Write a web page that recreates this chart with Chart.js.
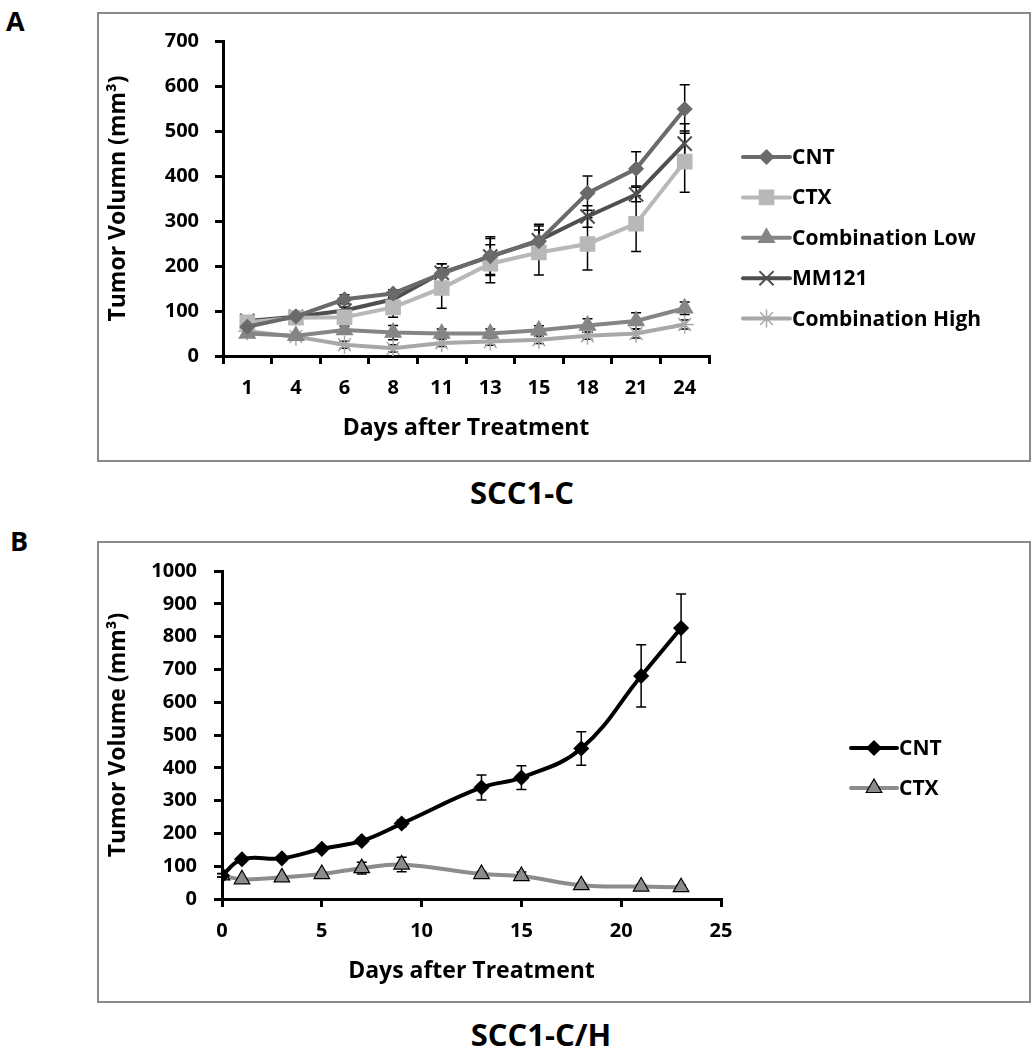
<!DOCTYPE html>
<html>
<head>
<meta charset="utf-8">
<script src="https://cdn.jsdelivr.net/npm/chart.js"></script>
<style>
  body { margin: 0; background: #fff; width: 1032px; height: 1050px; position: relative; overflow: hidden; font-family: 'Open Sans', sans-serif; }
  .box { position: absolute; box-sizing: border-box; border: 2px solid #8a8a8a; }
  .panel { position: absolute; font-weight: bold; font-size: 27px; color: #000; }
  .caption { position: absolute; font-weight: bold; font-size: 31px; color: #000; transform: translate(-50%, -50%); white-space: nowrap; }
  canvas { position: absolute; }
</style>
</head>
<body>
<div class="panel" style="left:6px; top:2px;">A</div>
<div class="panel" style="left:10px; top:522px;">B</div>
<div class="box" style="left:97px; top:12px; width:934px; height:450px;"></div>
<div class="box" style="left:97px; top:541px; width:934px; height:462px;"></div>
<canvas id="chartA" width="932" height="447" style="left:98px; top:13px;"></canvas>
<canvas id="chartB" width="932" height="459" style="left:98px; top:542px;"></canvas>
<div class="caption" style="left:522px; top:492px;">SCC1-C</div>
<div class="caption" style="left:541px; top:1034px;">SCC1-C/H</div>

<script>
// ---- panel A: SCC1-C ----
const daysA = ['1', '4', '6', '8', '11', '13', '15', '18', '21', '24'];
const cntA = [65, 88, 126, 139, 183, 222, 255, 362, 416, 549];
const ctxA = [75, 85, 86, 108, 151, 205, 230, 249, 294, 432];
const comboLowA = [50, 45, 58, 52, 50, 50, 57, 68, 78, 106];
const mm121A = [78, 87, 101, 126, 185, 221, 257, 310, 359, 472];
const comboHighA = [55, 43, 25, 17, 29, 32, 36, 45, 50, 70];

const cntErrA = [5, 6, 10, 8, 22, 43, 38, 38, 38, 54];
const ctxErrA = [5, 6, 8, 22, 45, 42, 50, 58, 62, 68];
const comboLowErrA = [5, 5, 8, 16, 10, 10, 10, 15, 18, 14];
const mm121ErrA = [5, 6, 8, 10, 20, 40, 32, 24, 16, 44];
const comboHighErrA = [5, 5, 8, 8, 8, 8, 8, 8, 10, 10];

const yMaxA = 700, yStepA = 100;

// ---- panel B: SCC1-C/H ----
const daysB = [0, 1, 3, 5, 7, 9, 13, 15, 18, 21, 23];
const cntB = [72, 121, 124, 153, 177, 230, 340, 370, 459, 680, 826];
const ctxB = [72, 60, 66, 76, 94, 105, 76, 70, 42, 38, 36];
const cntErrB = [6, 8, 8, 8, 8, 10, 38, 36, 51, 95, 104];
const ctxErrB = [5, 5, 5, 6, 18, 22, 8, 12, 6, 6, 6];

const yMaxB = 1000, yStepB = 100;
const xMaxB = 25, xStepB = 5;

const FONT = "'Open Sans', sans-serif";
const TICK_FONT = { family: FONT, size: 20, weight: 'bold' };
const TITLE_FONT = { family: FONT, size: 23, weight: 'bold' };

// error bars, drawn under the markers
const errorBarPlugin = {
  id: 'errorBars',
  beforeDatasetsDraw(chart) {
    const { ctx } = chart;
    const y = chart.scales.y;
    ctx.save();
    ctx.strokeStyle = '#000';
    ctx.lineWidth = 1.5;
    chart.data.datasets.forEach((ds, i) => {
      if (!ds.errors) return;
      const meta = chart.getDatasetMeta(i);
      meta.data.forEach((pt, j) => {
        const raw = ds.data[j];
        const v = typeof raw === 'object' ? raw.y : raw;
        const e = ds.errors[j];
        const top = y.getPixelForValue(v + e);
        const bot = y.getPixelForValue(v - e);
        ctx.beginPath();
        ctx.moveTo(pt.x, top); ctx.lineTo(pt.x, bot);
        ctx.moveTo(pt.x - 5, top); ctx.lineTo(pt.x + 5, top);
        ctx.moveTo(pt.x - 5, bot); ctx.lineTo(pt.x + 5, bot);
        ctx.stroke();
      });
    });
    ctx.restore();
  }
};

// legend on the right: line sample + marker + label
const sideLegend = {
  id: 'sideLegend',
  afterDraw(chart, args, opts) {
    const { ctx } = chart;
    ctx.save();
    chart.data.datasets.forEach((ds, i) => {
      const y = opts.top + i * opts.gap;
      ctx.strokeStyle = ds.borderColor;
      ctx.lineWidth = ds.borderWidth;
      ctx.lineCap = 'round';
      ctx.beginPath();
      ctx.moveTo(opts.left, y);
      ctx.lineTo(opts.left + opts.len, y);
      ctx.stroke();
      ctx.lineCap = 'butt';
      ctx.fillStyle = ds.pointBackgroundColor;
      ctx.strokeStyle = ds.pointBorderColor;
      ctx.lineWidth = ds.pointBorderWidth;
      Chart.helpers.drawPoint(ctx, {
        pointStyle: ds.pointStyle, rotation: 0,
        radius: ds.pointRadius, borderWidth: ds.pointBorderWidth
      }, opts.left + opts.len / 2, y);
      ctx.fillStyle = '#000';
      ctx.font = 'bold 21px ' + FONT;
      ctx.textBaseline = 'middle';
      ctx.textAlign = 'left';
      ctx.fillText(ds.label, opts.left + opts.len + 2, y + 1);
    });
    ctx.restore();
  }
};

const plainNumber = v => String(v);

function axisStyle(extra) {
  return Object.assign({
    border: { display: true, color: '#000', width: 3 },
    grid: { display: true, drawOnChartArea: false, drawTicks: true, tickLength: 8, color: '#000', lineWidth: 3 },
    ticks: { color: '#000', font: TICK_FONT },
    title: { display: true, color: '#000', font: TITLE_FONT }
  }, extra);
}

function lineSet(label, data, errors, color, style, radius, extra) {
  return Object.assign({
    label, data, errors,
    borderColor: color, borderWidth: 4,
    pointStyle: style, pointRadius: radius,
    pointBackgroundColor: color, pointBorderColor: color, pointBorderWidth: 1.5,
    tension: 0, fill: false
  }, extra || {});
}

new Chart(document.getElementById('chartA'), {
  type: 'line',
  data: {
    labels: daysA,
    datasets: [
      lineSet('CNT', cntA, cntErrA, '#6a6a6a', 'rectRot', 7),
      lineSet('CTX', ctxA, ctxErrA, '#b8b8b8', 'rect', 10),
      lineSet('Combination Low', comboLowA, comboLowErrA, '#858585', 'triangle', 9),
      lineSet('MM121', mm121A, mm121ErrA, '#4f4f4f', 'crossRot', 10, { pointBorderWidth: 2 }),
      lineSet('Combination High', comboHighA, comboHighErrA, '#a8a8a8', 'star', 9)
    ]
  },
  options: {
    responsive: false, animation: false, devicePixelRatio: 1,
    layout: { padding: { left: 0, top: 18, right: 321, bottom: 18 } },
    plugins: {
      legend: { display: false }, tooltip: { enabled: false },
      sideLegend: { left: 645, len: 47, top: 144, gap: 40.4 }
    },
    scales: {
      x: axisStyle({
        type: 'category', offset: true,
        grid: { display: true, offset: true, drawOnChartArea: false, drawTicks: true, tickLength: 8, color: '#000', lineWidth: 3 },
        ticks: { color: '#000', padding: 12, font: TICK_FONT },
        title: { display: true, text: 'Days after Treatment', color: '#000', padding: 0, font: TITLE_FONT },
        afterFit: s => { s.height = 86; }
      }),
      y: axisStyle({
        min: 0, max: yMaxA,
        ticks: { stepSize: yStepA, color: '#000', padding: 16, font: TICK_FONT, callback: plainNumber },
        title: { display: true, text: 'Tumor Volumn (mm\u00b3)', color: '#000', padding: { top: 7 }, font: TITLE_FONT },
        afterFit: s => { s.width = 125; }
      })
    }
  },
  plugins: [errorBarPlugin, sideLegend]
});

const toXY = (ys) => ys.map((v, i) => ({ x: daysB[i], y: v }));

new Chart(document.getElementById('chartB'), {
  type: 'line',
  data: {
    datasets: [
      lineSet('CNT', toXY(cntB), cntErrB, '#000', 'rectRot', 7, { tension: 0.4 }),
      lineSet('CTX', toXY(ctxB), ctxErrB, '#8c8c8c', 'triangle', 9, { tension: 0.4, pointBorderColor: '#000', pointBorderWidth: 1.2 })
    ]
  },
  options: {
    responsive: false, animation: false, devicePixelRatio: 1,
    layout: { padding: { left: 0, top: 26, right: 309, bottom: 16 } },
    plugins: {
      legend: { display: false }, tooltip: { enabled: false },
      sideLegend: { left: 753, len: 46, top: 206, gap: 40 }
    },
    scales: {
      x: axisStyle({
        type: 'linear', min: 0, max: xMaxB,
        ticks: { stepSize: xStepB, color: '#000', padding: 12, font: TICK_FONT, callback: plainNumber },
        title: { display: true, text: 'Days after Treatment', color: '#000', padding: 0, font: TITLE_FONT },
        afterFit: s => { s.height = 86; }
      }),
      y: axisStyle({
        min: 0, max: yMaxB,
        ticks: { stepSize: yStepB, color: '#000', padding: 17, font: TICK_FONT, callback: plainNumber },
        title: { display: true, text: 'Tumor Volume (mm\u00b3)', color: '#000', padding: { top: 7 }, font: TITLE_FONT },
        afterFit: s => { s.width = 124; }
      })
    }
  },
  plugins: [errorBarPlugin, sideLegend]
});
</script>
</body>
</html>
